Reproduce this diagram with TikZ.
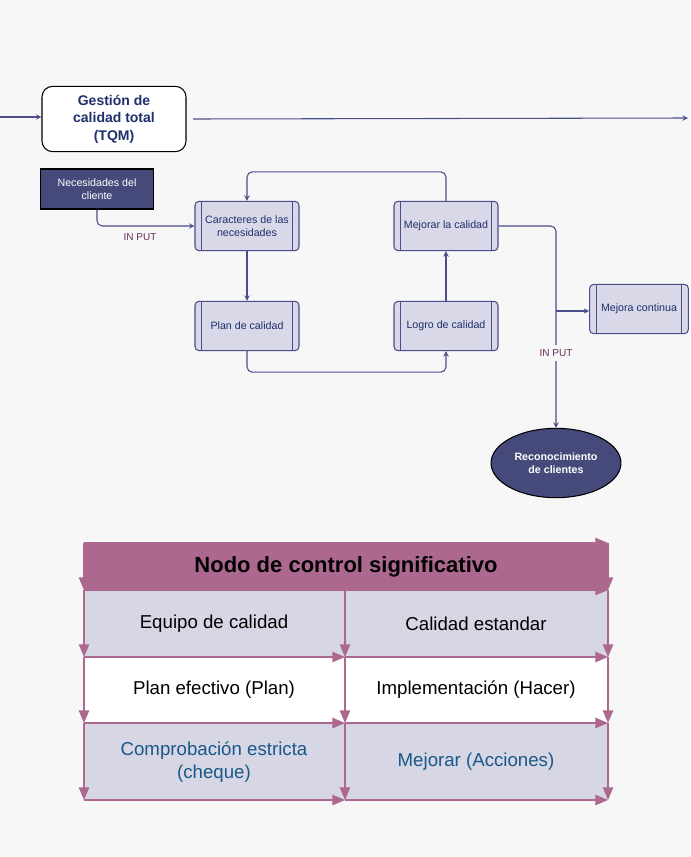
\documentclass[tikz,border=0pt]{standalone}
\usepackage{fontspec}
\setmainfont{Liberation Sans}
\usetikzlibrary{shapes.geometric, arrows}
\definecolor{navy}{HTML}{1F2F6B}
\definecolor{edge}{HTML}{4A4E8A}
\definecolor{boxfill}{HTML}{D8D8E8}
\definecolor{darkfill}{HTML}{464A7A}
\definecolor{mauve}{HTML}{AD6890}
\definecolor{cellfill}{HTML}{D6D6E4}
\definecolor{inputc}{HTML}{6A2A5A}
\tikzstyle{arrow} = [thick,->,>=stealth,draw=edge]
\tikzstyle{grid} = [very thick,->,>=triangle 45,draw=mauve]
\tikzstyle{process} = [draw=edge, thick, fill=boxfill, rounded corners=3pt,
  minimum width=78pt, minimum height=37pt, align=center, text=navy, font=\fontsize{8}{10}\selectfont,
  path picture={\draw[edge,thick] ([xshift=5pt]path picture bounding box.north west) -- ([xshift=5pt]path picture bounding box.south west);
    \draw[edge,thick] ([xshift=-5pt]path picture bounding box.north east) -- ([xshift=-5pt]path picture bounding box.south east);}]
\tikzstyle{cell} = [minimum width=196.5pt, minimum height=50pt, align=center, font=\fontsize{14}{17}\selectfont, inner sep=0pt]
\tikzstyle{inputlabel} = [text=inputc, font=\fontsize{7.5}{9}\selectfont]
\begin{document}
\begin{tikzpicture}[x=0.75pt,y=-0.75pt]
	\fill[black!3] (0,0) rectangle (690,857);
	\useasboundingbox (0,0) rectangle (690,857);
	% upper flow
	\node[draw, thick, rounded corners=8pt, fill=white, minimum width=108pt, minimum height=49pt, align=center,
	  text=navy, font=\bfseries\fontsize{10.5}{13}\selectfont] (tqm) at (114,119) {Gestión de\\calidad total\\(TQM)};
	\coordinate (inleft) at (0,117);
	\coordinate (outright) at (688,118);
	\draw[arrow] (inleft) -- (tqm.west |- inleft);
	\draw[arrow] ([xshift=5pt]tqm.east) -- (outright);
	\node[draw, thick, fill=darkfill, minimum width=85pt, minimum height=30pt, align=center, text=white,
	  font=\fontsize{8}{10}\selectfont] (needs) at (97,189) {Necesidades del\\cliente};
	\node[process] (charac) at (247,226) {Caracteres de las\\necesidades};
	\node[process] (plan) at (247,326) {Plan de calidad};
	\node[process] (improve) at (446,226) {Mejorar la calidad};
	\node[process] (achieve) at (446,326) {Logro de calidad};
	\node[process, minimum width=74pt] (continuous) at (639,309) {Mejora continua};
	\node[ellipse, draw=black, thick, fill=darkfill, minimum width=88pt, minimum height=52pt, align=center,
	  text=white, font=\bfseries\fontsize{8}{10}\selectfont] (recog) at (556,463) {Reconocimiento\\de clientes};
	\draw[arrow, rounded corners=4pt] (needs.south) |- (charac.west);
	\node[inputlabel] (in1) at (140,237) {IN PUT};
	\draw[arrow] (charac) -- (plan);
	\draw[arrow, rounded corners=4pt] (plan.south) -- ++(0,21) -| (achieve.south);
	\draw[arrow] (achieve) -- (improve);
	\draw[arrow, rounded corners=4pt] (improve.north) -- ++(0,-29) -| (charac.north);
	\draw[arrow, rounded corners=4pt] (improve.east) -| (recog.north);
	\coordinate (branch) at (556,311);
	\draw[arrow] (branch) -- (continuous.west |- branch);
	\node[inputlabel, fill=black!3] (in2) at (556,353) {IN PUT};
	% table
	\fill[mauve] (84,543) rectangle (608,590);
	\fill[cellfill] (84,590) rectangle (608,657);
	\fill[white] (84,657) rectangle (608,723);
	\fill[cellfill] (84,723) rectangle (608,800);
	\node[font=\bfseries\fontsize{16.5}{20}\selectfont] (head) at (346,567) {Nodo de control significativo};
	\node[cell] (c11) at (214,624) {Equipo de calidad};
	\node[cell] (c12) at (476,624) {Calidad estandar};
	\node[cell] (c21) at (214,690) {Plan efectivo (Plan)};
	\node[cell] (c22) at (476,690) {Implementación (Hacer)};
	\node[cell, text=navy!80!cyan] (c31) at (214,762) {Comprobación estricta\\(cheque)};
	\node[cell, text=navy!80!cyan] (c32) at (476,762) {Mejorar (Acciones)};
	\draw[grid] (84,543) -- (608,543);
	\draw[grid] (84,590) -- (608,590);
	\foreach \y in {657,723,800}
		\foreach \xa/\xb in {84/345,345/608}
			\draw[grid] (\xa,\y) -- (\xb,\y);
	\foreach \x in {84,608}
		\draw[grid] (\x,543) -- (\x,590);
	\foreach \x in {84,345,608}
		\foreach \ya/\yb in {590/657,657/723,723/800}
			\draw[grid] (\x,\ya) -- (\x,\yb);
\end{tikzpicture}
\end{document}
